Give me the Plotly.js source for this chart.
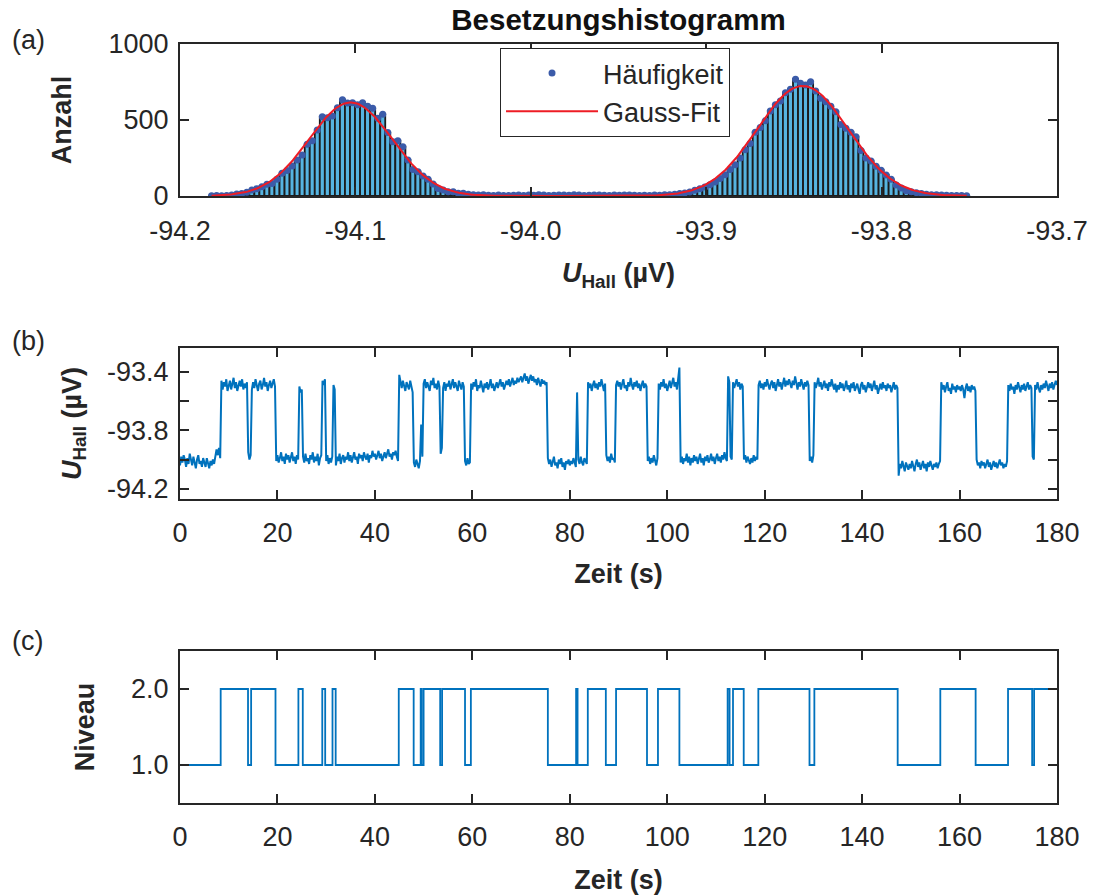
<!DOCTYPE html>
<html>
<head>
<meta charset="utf-8">
<script src="https://cdn.plot.ly/plotly-3.0.1.min.js"></script>
<style>html,body{margin:0;padding:0;background:#fff}</style>
</head>
<body>
<div id="chart" style="width:1096px;height:895px"></div>
<script>
// ---------- Panel (a): occupation histogram ----------
const binStart = -94.182;   // centre of first bin (µV)
const binWidth = 0.00287;   // bin width (µV)
const histCounts = [
  2,3,2,4,6,13,16,24,39,48,
  61,77,82,110,149,167,197,237,270,340,
  364,434,522,515,526,580,634,612,614,600,
  614,590,577,511,537,417,357,364,324,237,
  175,160,132,110,79,50,39,28,28,18,
  18,11,9,6,8,5,4,6,3,4,
  5,6,4,7,5,8,6,4,5,7,
  6,5,8,6,4,5,6,7,5,4,
  6,5,7,6,5,4,5,3,6,5,
  8,9,12,16,20,26,38,48,60,74,
  92,115,140,175,205,250,305,345,420,450,
  495,560,600,625,680,703,768,741,730,752,
  690,643,620,590,555,470,445,420,390,300,
  250,230,195,170,138,110,72,52,35,28,
  22,16,12,9,8,6,5,4,3,3,
  2
];
// Gauss fit parameters (two peaks)
const fitAmp   = [615, 724];
const fitMu    = [-94.1027, -93.845];
const fitSigma = [0.0238, 0.026];

const histTicks = [-94.2, -94.1, -94.0, -93.9, -93.8, -93.7];
const histTickText = ['-94.2', '-94.1', '-94.0', '-93.9', '-93.8', '-93.7'];

// ---------- Panel (b): Hall voltage trace (sampled every 0.25 s) ----------
const sampleDt = 0.25; // s
const uHall = [
  -94.04,-93.98,-94.02,-93.97,-94.00,-94.05,-93.99,-94.03,-93.96,-94.01,-94.04,-93.98,-94.02,-94.06,-94.00,-93.97,-94.03,-94.01,-94.05,-93.99,
  -94.02,-94.05,-93.99,-94.03,-94.06,-94.01,-94.04,-94.00,-94.03,-93.98,-93.93,-93.97,-93.92,-93.99,-93.46,-93.52,-93.47,-93.50,-93.45,-93.53,
  -93.49,-93.46,-93.52,-93.48,-93.44,-93.51,-93.47,-93.53,-93.49,-93.46,-93.50,-93.45,-93.52,-93.48,-93.51,-93.47,-93.95,-94.00,-93.97,-93.52,
  -93.47,-93.51,-93.45,-93.50,-93.53,-93.48,-93.46,-93.52,-93.49,-93.44,-93.50,-93.47,-93.53,-93.49,-93.46,-93.51,-93.48,-93.45,-93.50,-94.01,
  -93.97,-94.02,-93.99,-93.95,-94.01,-93.98,-94.03,-93.96,-94.00,-93.97,-94.02,-93.99,-93.95,-94.01,-93.98,-94.03,-93.97,-94.00,-93.50,-93.54,
  -93.52,-93.98,-94.02,-93.96,-94.01,-93.99,-94.03,-93.97,-94.00,-93.95,-94.02,-93.98,-94.01,-93.96,-94.04,-93.99,-93.97,-93.46,-93.49,-93.45,
  -94.01,-93.97,-94.03,-93.99,-94.02,-93.98,-93.49,-93.52,-94.04,-93.98,-94.01,-93.96,-94.03,-93.99,-93.97,-94.02,-93.98,-94.00,-93.95,-94.01,
  -93.97,-94.02,-93.99,-93.95,-94.00,-93.98,-94.03,-93.96,-93.99,-93.97,-94.01,-93.95,-93.98,-94.00,-93.96,-94.02,-93.97,-93.99,-93.94,-93.98,
  -93.96,-94.00,-93.97,-93.94,-93.99,-93.96,-94.01,-93.97,-93.95,-93.99,-93.96,-93.93,-93.98,-93.96,-94.00,-93.95,-93.97,-93.94,-93.98,-94.01,
  -93.42,-93.48,-93.51,-93.46,-93.50,-93.53,-93.47,-93.49,-93.52,-93.46,-93.50,-93.54,-94.02,-94.05,-94.00,-94.04,-94.06,-94.01,-93.76,-93.98,
  -93.48,-93.45,-93.51,-93.47,-93.50,-93.53,-93.46,-93.49,-93.44,-93.51,-93.48,-93.52,-93.46,-93.50,-93.96,-93.92,-93.51,-93.47,-93.53,-93.48,
  -93.50,-93.46,-93.52,-93.48,-93.45,-93.51,-93.47,-93.50,-93.53,-93.46,-93.49,-93.52,-93.47,-93.50,-94.01,-94.04,-93.99,-94.03,-94.02,-93.48,
  -93.52,-93.47,-93.50,-93.45,-93.53,-93.49,-93.51,-93.46,-93.50,-93.54,-93.48,-93.51,-93.47,-93.52,-93.49,-93.45,-93.51,-93.48,-93.53,-93.49,
  -93.47,-93.51,-93.48,-93.45,-93.50,-93.47,-93.52,-93.48,-93.46,-93.49,-93.45,-93.50,-93.47,-93.44,-93.49,-93.46,-93.48,-93.44,-93.47,-93.45,
  -93.43,-93.47,-93.44,-93.41,-93.46,-93.43,-93.48,-93.44,-93.42,-93.46,-93.43,-93.47,-93.45,-93.49,-93.44,-93.47,-93.50,-93.45,-93.48,-93.46,
  -93.49,-93.47,-93.99,-94.03,-94.00,-94.05,-94.01,-93.98,-94.04,-94.02,-94.06,-94.00,-94.03,-93.99,-94.05,-94.02,-94.07,-94.01,-94.03,-94.00,
  -94.04,-94.01,-94.03,-93.99,-94.02,-94.05,-93.54,-94.00,-94.03,-93.98,-94.02,-94.04,-93.99,-94.01,-94.03,-93.47,-93.51,-93.48,-93.53,-93.49,
  -93.46,-93.51,-93.48,-93.52,-93.47,-93.50,-93.45,-93.49,-93.53,-93.48,-93.97,-94.01,-93.98,-94.02,-93.96,-94.00,-93.99,-94.02,-93.49,-93.46,
  -93.50,-93.47,-93.52,-93.48,-93.45,-93.51,-93.49,-93.53,-93.47,-93.50,-93.44,-93.49,-93.52,-93.47,-93.50,-93.46,-93.51,-93.48,-93.53,-93.49,
  -93.46,-93.51,-93.48,-93.50,-94.01,-93.98,-94.03,-93.99,-94.02,-93.97,-94.01,-94.04,-93.99,-93.48,-93.52,-93.47,-93.50,-93.45,-93.51,-93.48,
  -93.53,-93.49,-93.46,-93.51,-93.48,-93.44,-93.50,-93.47,-93.52,-93.46,-93.37,-94.02,-93.98,-94.03,-93.99,-94.01,-93.96,-94.02,-93.98,-94.04,
  -93.99,-94.02,-93.97,-94.01,-93.98,-94.03,-94.00,-93.96,-94.02,-93.99,-94.04,-93.98,-94.01,-93.97,-94.02,-94.00,-93.96,-94.01,-93.98,-94.03,
  -93.99,-93.96,-94.01,-93.98,-94.02,-93.97,-94.00,-93.95,-93.99,-94.01,-93.43,-93.47,-93.98,-94.00,-93.47,-93.51,-93.48,-93.45,-93.50,-93.47,
  -93.52,-93.48,-93.50,-94.00,-93.97,-94.02,-93.98,-94.01,-94.03,-93.99,-94.02,-93.97,-94.01,-93.98,-94.00,-93.49,-93.46,-93.51,-93.48,-93.52,
  -93.47,-93.50,-93.45,-93.49,-93.52,-93.48,-93.46,-93.51,-93.47,-93.53,-93.49,-93.45,-93.50,-93.47,-93.52,-93.48,-93.44,-93.50,-93.46,-93.49,
  -93.45,-93.48,-93.51,-93.46,-93.49,-93.43,-93.48,-93.52,-93.47,-93.50,-93.45,-93.49,-93.52,-93.47,-93.50,-93.46,-93.49,-94.01,-93.98,-94.02,
  -93.97,-93.47,-93.51,-93.48,-93.44,-93.50,-93.47,-93.52,-93.49,-93.46,-93.51,-93.48,-93.53,-93.47,-93.50,-93.45,-93.49,-93.52,-93.48,-93.54,
  -93.49,-93.52,-93.47,-93.51,-93.48,-93.53,-93.50,-93.46,-93.52,-93.49,-93.54,-93.48,-93.51,-93.47,-93.53,-93.50,-93.48,-93.52,-93.55,-93.49,
  -93.47,-93.52,-93.49,-93.54,-93.50,-93.47,-93.51,-93.48,-93.53,-93.50,-93.46,-93.52,-93.49,-93.55,-93.50,-93.48,-93.52,-93.47,-93.51,-93.49,
  -93.53,-93.48,-93.51,-93.49,-93.54,-93.50,-93.47,-93.52,-93.49,-93.51,-94.11,-94.03,-94.06,-94.01,-94.05,-94.08,-94.02,-94.04,-94.07,-94.03,
  -94.06,-94.01,-94.05,-94.08,-94.03,-94.00,-94.05,-94.02,-94.07,-94.04,-94.01,-94.06,-94.03,-94.08,-94.02,-94.05,-94.01,-94.04,-94.07,-94.03,
  -94.05,-94.02,-94.06,-94.03,-94.01,-93.47,-93.52,-93.49,-93.54,-93.50,-93.47,-93.53,-93.51,-93.55,-93.48,-93.52,-93.50,-93.54,-93.49,-93.52,
  -93.50,-93.53,-93.49,-93.52,-93.58,-93.51,-93.48,-93.53,-93.50,-93.54,-93.49,-93.52,-93.50,-93.53,-94.00,-94.04,-94.02,-94.06,-94.01,-94.04,
  -94.02,-94.06,-94.03,-94.00,-94.05,-94.02,-94.07,-94.03,-94.01,-94.05,-94.02,-94.06,-94.03,-94.00,-94.04,-94.02,-94.06,-94.03,-94.05,-94.01,
  -93.49,-93.53,-93.48,-93.52,-93.50,-93.55,-93.49,-93.52,-93.47,-93.51,-93.54,-93.49,-93.52,-93.48,-93.53,-93.50,-93.47,-93.52,-93.49,-93.51,
  -93.98,-94.00,-93.49,-93.52,-93.47,-93.51,-93.54,-93.49,-93.52,-93.48,-93.51,-93.46,-93.50,-93.53,-93.48,-93.51,-93.47,-93.52,-93.49,-93.46,
  -93.49
];
const uTicks = [-94.2, -93.8, -93.4];          // labelled ticks
const uTickText = ['-94.2', '-93.8', '-93.4'];
const uMinorTicks = [-94.0, -93.6];            // unlabelled ticks
const timeTicks = [0, 20, 40, 60, 80, 100, 120, 140, 160, 180];

// ---------- Panel (c): level assignment ----------
const levelTimes = [0, 8.35, 13.96, 14.6, 19.6, 24.3, 25.2, 29.2, 29.8, 31.3, 31.95,
  44.9, 47.96, 49.4, 49.6, 50.0, 53.4, 53.8, 58.5, 59.7, 75.5, 81.3, 81.6, 83.7,
  87.4, 89.5, 95.85, 98.1, 102.5, 112.4, 112.8, 113.5, 115.7, 118.7, 129.2, 130.2,
  147.3, 156.05, 163.3, 169.95, 174.9, 175.3, 180];
const levels = [1, 2, 1, 2, 1, 2, 1, 2, 1, 2, 1,
  2, 1, 2, 1, 2, 1, 2, 1, 2, 1, 2, 1, 2,
  1, 2, 1, 2, 1, 2, 1, 2, 1, 2, 1, 2,
  1, 2, 1, 2, 1, 2, 2];
const levelTicks = [1, 2];
const levelTickText = ['1.0', '2.0'];

// ---------- derived arrays ----------
const binCenters = histCounts.map((_, i) => binStart + i * binWidth);
const fitX = [];
const nFit = 400;
const fitX0 = binCenters[0], fitX1 = binCenters[binCenters.length - 1];
for (let k = 0; k <= nFit; k++) fitX.push(fitX0 + (fitX1 - fitX0) * k / nFit);
const fitY = fitX.map(x => fitAmp.reduce((s, a, j) =>
  s + a * Math.exp(-Math.pow(x - fitMu[j], 2) / (2 * fitSigma[j] * fitSigma[j])), 0));
const timeAxis = uHall.map((_, i) => i * sampleDt);

const FONT = 'Liberation Sans, Arial, Helvetica, sans-serif';
const TXT = '#262626';
const AX = '#262626';

const traces = [
  {type: 'bar', x: binCenters, y: histCounts, xaxis: 'x', yaxis: 'y',
   marker: {color: '#56B4E0', line: {color: '#1c1c1c', width: 1.8}},
   showlegend: false, hoverinfo: 'x+y'},
  {type: 'scatter', mode: 'markers', x: binCenters, y: histCounts, xaxis: 'x', yaxis: 'y',
   name: 'Häufigkeit', marker: {color: '#3B5BA9', size: 7}},
  {type: 'scatter', mode: 'lines', x: fitX, y: fitY, xaxis: 'x', yaxis: 'y',
   name: 'Gauss-Fit', line: {color: '#EE1C25', width: 2}},
  {type: 'scatter', mode: 'lines', x: timeAxis, y: uHall, xaxis: 'x2', yaxis: 'y2',
   showlegend: false, line: {color: '#0072BD', width: 2}},
  {type: 'scatter', mode: 'lines', x: levelTimes, y: levels, xaxis: 'x3', yaxis: 'y3',
   showlegend: false, line: {color: '#0072BD', width: 1.8, shape: 'hv'}}
];

function axisBase(extra) {
  return Object.assign({
    showline: true, linecolor: AX, linewidth: 2, mirror: 'ticks',
    ticks: 'inside', ticklen: 9, tickwidth: 2, tickcolor: AX,
    showgrid: false, zeroline: false, automargin: false,
    tickfont: {family: FONT, size: 27, color: TXT}
  }, extra);
}
const titleFont = {family: FONT, size: 27, color: TXT};

const layout = {
  width: 1096, height: 895,
  paper_bgcolor: '#ffffff', plot_bgcolor: '#ffffff',
  margin: {l: 180, r: 39, t: 44, b: 92, autoexpand: false},
  font: {family: FONT, color: TXT},
  bargap: 0,
  title: {text: 'Besetzungshistogramm', font: {family: FONT, size: 29.5, weight: 'bold', color: '#111'},
          x: 0.5, xref: 'paper', xanchor: 'center', y: 1 - 20 / 895, yanchor: 'middle'},
  showlegend: true,
  legend: {x: 0.3649, y: 0.9947, xanchor: 'left', yanchor: 'top',
           bgcolor: '#ffffff', bordercolor: AX, borderwidth: 1,
           font: {family: FONT, size: 27, color: TXT}, itemwidth: 92},
  xaxis: axisBase({anchor: 'y', domain: [0, 1], range: [-94.2, -93.7],
    tickvals: histTicks, ticktext: histTickText, ticklabelstandoff: 10,
    title: {text: '<b><i>U</i><sub>Hall</sub> (µV)</b>', font: titleFont, standoff: 18}}),
  yaxis: axisBase({anchor: 'x', domain: [0.79974, 1], range: [0, 1000],
    tickvals: [0, 500, 1000], ticklabelstandoff: 4,
    title: {text: '<b>Anzahl</b>', font: titleFont, standoff: 29}}),
  xaxis2: axisBase({anchor: 'y2', domain: [0, 1], range: [0, 180],
    tickvals: timeTicks, ticklabelstandoff: 9,
    title: {text: '<b>Zeit (s)</b>', font: titleFont, standoff: 17}}),
  yaxis2: axisBase({anchor: 'x2', domain: [0.40053, 0.59947], range: [-94.27, -93.236],
    tickvals: uTicks, ticktext: uTickText, ticklabelstandoff: 4,
    minor: {tickmode: 'array', tickvals: uMinorTicks, ticks: 'inside', ticklen: 9, tickwidth: 2,
            tickcolor: AX, showgrid: false},
    title: {text: '<b><i>U</i><sub>Hall</sub> (µV)</b>', font: titleFont, standoff: 18}}),
  xaxis3: axisBase({anchor: 'y3', domain: [0, 1], range: [0, 180],
    tickvals: timeTicks, ticklabelstandoff: 9,
    title: {text: '<b>Zeit (s)</b>', font: titleFont, standoff: 20}}),
  yaxis3: axisBase({anchor: 'x3', domain: [0, 0.20026], range: [0.5, 2.5],
    tickvals: levelTicks, ticktext: levelTickText, ticklabelstandoff: 4,
    title: {text: '<b>Niveau</b>', font: titleFont, standoff: 29}}),
  annotations: [
    {text: '(a)', xref: 'paper', yref: 'paper', x: -0.1938, y: 1.0053, xanchor: 'left', yanchor: 'middle',
     showarrow: false, font: {family: FONT, size: 27, color: TXT}},
    {text: '(b)', xref: 'paper', yref: 'paper', x: -0.1938, y: 0.6087, xanchor: 'left', yanchor: 'middle',
     showarrow: false, font: {family: FONT, size: 27, color: TXT}},
    {text: '(c)', xref: 'paper', yref: 'paper', x: -0.1938, y: 0.2134, xanchor: 'left', yanchor: 'middle',
     showarrow: false, font: {family: FONT, size: 27, color: TXT}}
  ]
};

Plotly.newPlot('chart', traces, layout, {displayModeBar: false, staticPlot: true});
</script>
</body>
</html>
